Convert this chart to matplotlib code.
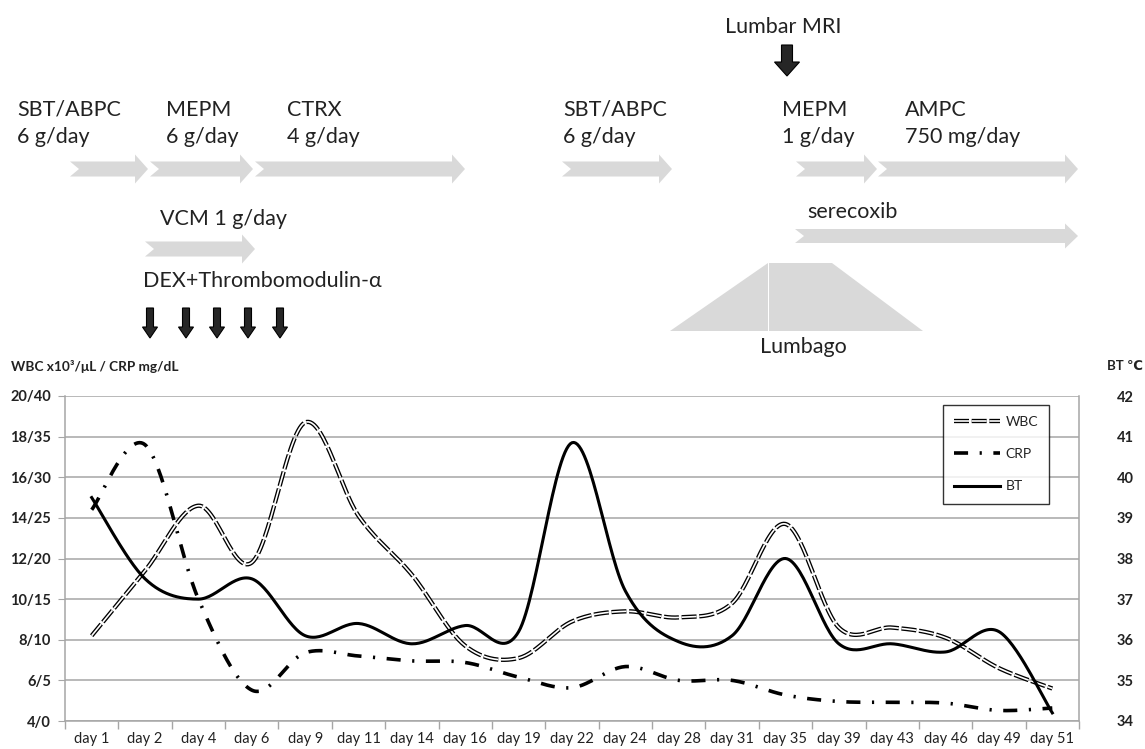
import numpy as np
import matplotlib
matplotlib.use("Agg")
import matplotlib.pyplot as plt
import matplotlib.patheffects as pe
from matplotlib.patches import Polygon

plt.rcParams['font.family'] = ['Lato', 'DejaVu Sans']

# data
days = ["day 1", "day 2", "day 4", "day 6", "day 9", "day 11", "day 14", "day 16",
        "day 19", "day 22", "day 24", "day 28", "day 31", "day 35", "day 39",
        "day 43", "day 46", "day 49", "day 51"]
wbc = [8.2, 11.4, 14.6, 11.8, 18.7, 14.1, 11.2, 7.7, 7.1, 8.9, 9.4, 9.1, 9.8,
       13.7, 8.6, 8.6, 8.1, 6.6, 5.6]                       # x10^3/uL
crp = [26, 34, 15, 3.8, 8.4, 8.0, 7.4, 7.2, 5.4, 4.1, 6.7, 5.0, 5.0,
       3.2, 2.4, 2.3, 2.2, 1.3, 1.6]                        # mg/dL
bt = [39.5, 37.5, 37.0, 37.5, 36.1, 36.4, 35.9, 36.35, 36.2, 40.85, 37.2,
      35.95, 36.1, 38.0, 35.9, 35.9, 35.7, 36.2, 34.2]      # deg C

wbc_ticks = [4, 6, 8, 10, 12, 14, 16, 18, 20]
crp_ticks = [0, 5, 10, 15, 20, 25, 30, 35, 40]
bt_ticks = [34, 35, 36, 37, 38, 39, 40, 41, 42]

W, H = 1145, 749
GRID = '#a6a6a6'
TXT = '#222222'
ARROW = '#d9d9d9'


def smooth(y, sx, sy, n=30):
    # excel-ish smoothed line: bezier through points, tangents (p2-p0)/6
    pts = np.column_stack([np.arange(len(y)) * sx, np.asarray(y, float) * sy])
    p = np.vstack([pts[0], pts, pts[-1]])
    t = np.linspace(0, 1, n, endpoint=False)[:, None]
    out = []
    for i in range(1, len(p) - 2):
        p0, p1, p2, p3 = p[i - 1], p[i], p[i + 1], p[i + 2]
        c1 = p1 + (p2 - p0) / 6
        c2 = p2 - (p3 - p1) / 6
        out.append((1 - t)**3 * p1 + 3 * (1 - t)**2 * t * c1 + 3 * (1 - t) * t**2 * c2 + t**3 * p2)
    out.append(pts[-1:])
    out = np.vstack(out)
    return out[:, 0] / sx, out[:, 1] / sy


fig = plt.figure(figsize=(W / 100, H / 100), dpi=100)
fig.patch.set_facecolor('white')

# plot area in pixels: x 65..1079, y 396..721
ax = fig.add_axes([65 / W, 1 - 721 / H, (1079 - 65) / W, (721 - 396) / H])
ax_crp = ax.twinx()
ax_bt = ax.twinx()

n = len(days)
px_x = (1079 - 65) / n
px_h = 721 - 396

ax.set_xlim(-0.5, n - 0.5)
ax.set_ylim(wbc_ticks[0], wbc_ticks[-1])
ax_crp.set_ylim(crp_ticks[0], crp_ticks[-1])
ax_bt.set_ylim(bt_ticks[0], bt_ticks[-1])

# WBC - double line
xs, ys = smooth(wbc, px_x, px_h / (wbc_ticks[-1] - wbc_ticks[0]))
ax.plot(xs, ys, color='white', lw=1.2, dashes=(9, 1.6), solid_capstyle='butt',
        path_effects=[pe.Stroke(linewidth=3.1, foreground='black'), pe.Normal()],
        label='WBC', zorder=3)

# CRP - dash dot
xs, ys = smooth(crp, px_x, px_h / (crp_ticks[-1] - crp_ticks[0]))
ax_crp.plot(xs, ys, color='black', lw=2.6, dashes=(3.9, 3.2, 0.6, 3.2), label='CRP')
ax_crp.axis('off')

# BT - solid
xs, ys = smooth(bt, px_x, px_h / (bt_ticks[-1] - bt_ticks[0]))
ax_bt.plot(xs, ys, color='black', lw=2.2, label='BT')

# grid + axes styling
ax.set_yticks(wbc_ticks)
ax.set_yticklabels([f"{w}/{c}" for w, c in zip(wbc_ticks, crp_ticks)],
                   fontweight='bold', fontsize=10.5, color=TXT)
ax.yaxis.grid(True, color=GRID, lw=1.1)
ax.set_axisbelow(True)
ax.tick_params(axis='y', length=5, color=GRID, pad=5)
ax.set_xticks(range(n))
ax.set_xticklabels(days, fontsize=10.5, color=TXT)
ax.set_xticks(np.arange(-0.5, n), minor=True)
ax.tick_params(axis='x', which='major', length=0, pad=8)
ax.tick_params(axis='x', which='minor', length=6, color=GRID, width=1)
for s in ['top', 'right']:
    ax.spines[s].set_visible(False)
for s in ['left', 'bottom']:
    ax.spines[s].set_color(GRID)
    ax.spines[s].set_linewidth(1.1)

ax_bt.set_yticks(bt_ticks)
ax_bt.set_yticklabels([str(b) for b in bt_ticks], fontweight='bold', fontsize=10.5, color=TXT)
ax_bt.tick_params(axis='y', length=0, pad=27)
for s in ['top', 'left', 'bottom']:
    ax_bt.spines[s].set_visible(False)
ax_bt.spines['right'].set_color(GRID)
ax_bt.spines['right'].set_linewidth(1.1)

handles = ax.get_lines()[:1] + ax_crp.get_lines() + ax_bt.get_lines()
leg = ax_bt.legend(handles=handles, loc='upper left', bbox_to_anchor=(0.866, 0.972),
                   fontsize=10, frameon=True, fancybox=False, edgecolor='black',
                   handlelength=3.3, handletextpad=0.4, labelspacing=1.45, borderpad=0.8,
                   borderaxespad=0)
leg.get_frame().set_linewidth(1.0)
for t in leg.get_texts():
    t.set_color(TXT)

fig.text(11 / W, 1 - 371 / H, "WBC x10³/μL / CRP mg/dL", fontsize=9.8, fontweight='bold',
         color=TXT, va='baseline')
fig.text(1107 / W, 1 - 370 / H, "BT ℃", fontsize=9.5, fontweight='bold', color=TXT, va='baseline')

# treatment timeline drawn above the chart (pixel coords)
top = fig.add_axes([0, 0, 1, 1], zorder=5)
top.set_xlim(0, W)
top.set_ylim(H, 0)
top.axis('off')


def gray_arrow(x0, x1, yc, shaft=7.5, head=14.5, hl=13, notch=9):
    pts = [(x0, yc - shaft), (x1 - hl, yc - shaft), (x1 - hl, yc - head), (x1, yc),
           (x1 - hl, yc + head), (x1 - hl, yc + shaft), (x0, yc + shaft), (x0 + notch, yc)]
    top.add_patch(Polygon(pts, closed=True, fc=ARROW, ec='none'))


def black_arrow(xc, y0, y1, shaft, head, hl):
    pts = [(xc - shaft, y0), (xc + shaft, y0), (xc + shaft, y1 - hl), (xc + head, y1 - hl),
           (xc, y1), (xc - head, y1 - hl), (xc - shaft, y1 - hl)]
    top.add_patch(Polygon(pts, closed=True, fc='#262626', ec='black', lw=0.8))


for x0, x1 in [(70, 148), (150, 253), (255, 465), (562, 672), (796, 877), (878, 1078)]:
    gray_arrow(x0, x1, 169)
gray_arrow(145, 255, 249)
gray_arrow(795, 1078, 236, shaft=7, head=12.5)

# lumbago trapezoid
top.add_patch(Polygon([(670, 331), (768, 263), (768, 331)], closed=True, fc=ARROW, ec='none'))
top.add_patch(Polygon([(769, 263), (832, 263), (923, 331), (769, 331)], closed=True, fc=ARROW, ec='none'))

for xc in [150, 186, 217, 248, 280]:
    black_arrow(xc, 308, 338, 3.5, 7.5, 11)
black_arrow(787, 45, 76, 5.5, 12.5, 14)

FS = 15.5
labels = [
    (17, 116, "SBT/ABPC"), (17, 143, "6 g/day"),
    (166, 116, "MEPM"), (166, 143, "6 g/day"),
    (287, 116, "CTRX"), (287, 143, "4 g/day"),
    (563, 116, "SBT/ABPC"), (563, 143, "6 g/day"),
    (782, 116, "MEPM"), (782, 143, "1 g/day"),
    (905, 116, "AMPC"), (905, 143, "750 mg/day"),
    (725, 33, "Lumbar MRI"),
    (160, 225, "VCM 1 g/day"),
    (143, 287, "DEX+Thrombomodulin-α"),
    (807, 218, "serecoxib"),
]
for x, y, s in labels:
    top.text(x, y, s, fontsize=FS, color=TXT, va='baseline', ha='left')
top.text(803, 353, "Lumbago", fontsize=FS, color=TXT, va='baseline', ha='center')

fig.savefig('out.png', dpi=100)
